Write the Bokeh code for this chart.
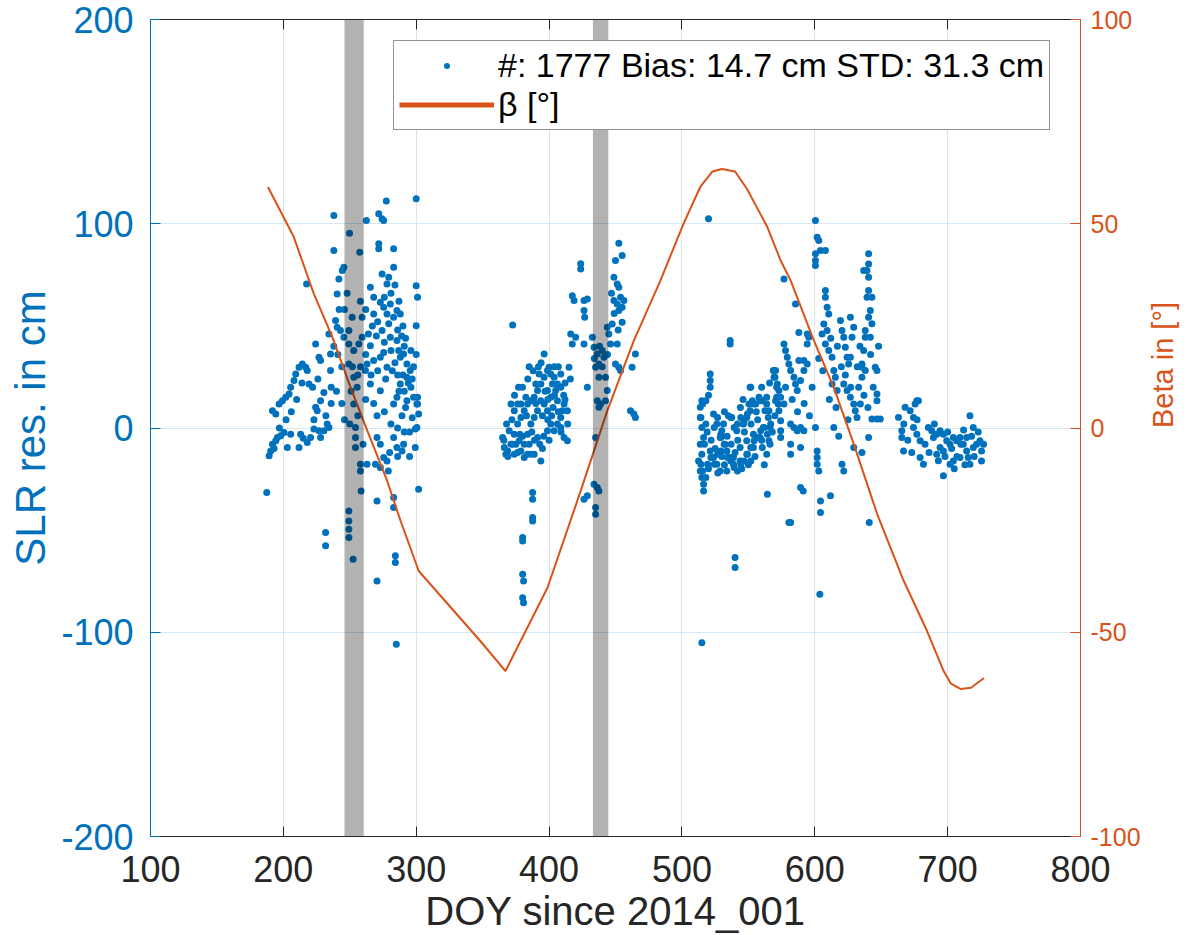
import math
from bokeh.plotting import figure
from bokeh.models import (Range1d, LinearAxis, Legend, LegendItem, Label,
                          BoxAnnotation, FixedTicker)
from bokeh.embed import file_html
from bokeh.resources import INLINE

# ---------------- data ----------------
title_text = "SLR residuals for GAL-101"
x_label = "DOY since 2014_001"
y_label = "SLR res. in cm"
y2_label = "Beta in [°]"
legend_labels = ["#: 1777 Bias: 14.7 cm STD: 31.3 cm", "β [°]"]

x_ticks = [100, 200, 300, 400, 500, 600, 700, 800]
y_ticks = [-200, -100, 0, 100, 200]
beta_ticks = [-100, -50, 0, 50, 100]

eclipse_start = [246.0, 433.0]
eclipse_end = [260.5, 444.6]

arc1_doy = [187.5, 189.3, 190.5, 191.8, 194.3, 195.5, 198, 200.5, 191.8, 194.3, 196.8, 199.3, 201.8, 204.3, 205.5, 208, 209.3, 211.8, 214.3, 216.8, 218, 219.3, 203, 205.5, 211.8, 213, 218, 220.5, 223, 226.8, 228, 230.5, 233, 234.3, 224.3, 225.5, 228, 230.5, 224.3, 226.8, 228, 235.5, 234.3, 235.5, 217.5, 231.8, 231.8, 238, 238, 240.5, 241.8, 245.5, 244.3, 239.3, 240.5, 243, 245.5, 249.8, 257.5, 251.8, 259.3, 249.3, 249.3, 253, 256.8, 259.3, 249.3, 253, 255.5, 253, 254.3, 254.3, 254.3, 258, 258, 258.5, 249.3, 249.3, 249.3, 249.3, 252.5, 262.5, 271.8, 274.3, 275.5, 277.5, 271.8, 271.8, 283, 283, 274.3, 279.3, 278, 265.5, 268, 273, 275.5, 278, 280.5, 283, 285.5, 288, 268, 274.3, 279.3, 280.5, 285.5, 286.8, 288, 290.5, 293, 295.5, 293, 288, 285.5, 283, 265.5, 263, 261.8, 268, 273, 275.5, 278, 265.5, 273, 270.5, 289.3, 293, 298, 300.5, 301.8, 300.5, 299.3, 270.5, 273, 275.5, 278, 269.3, 263, 273, 283, 285.5, 289.3, 290.5, 270.5, 283, 283, 284.3, 284.3, 270.5, 285, 300, 300, 301, 300, 301, 301, 299.3, 301.8,
            286, 289, 291, 284, 282, 290, 294, 287, 292, 296, 270, 276, 281, 266, 262, 258, 256, 252, 251, 256, 250, 244, 241, 238, 236, 232, 226, 222, 214, 210, 206, 202, 197, 193, 215, 223, 280, 286, 279, 295, 297, 260, 262,
            264, 267, 271, 276, 281, 284, 287, 290, 292, 296, 298, 300, 297, 291, 286, 277, 271, 268, 276, 281, 286, 291, 295, 262, 258, 246, 242, 248, 244, 240, 236, 246]
arc1_res = [-31.6, -13.6, -11.2, -7.9, -6.3, -4.6, -3.8, -2.2, 8.5, 6.8, 11.7, 13.4, 15, 16.6, 19.9, 23.2, 26.4, 29.7, 31.3, 29.7, 28.1, 21.5, -9.5, -3, -9.5, -3, -7.1, -4.6, -0.5, -1.4, -4.6, -1.4, 1.9, 0.3, 10.1, 8.5, 13.4, 17.4, 41.1, 34.6, 33, 36.2, 46, 28.1, 70.5, -51.2, -57.7, 104, 86.9, 65.6, 73, 78.7, 77.1, 52.6, 49.3, 47.7, 44.4, 95.4, 86.1, 54.2, 54.2, 47.7, 41.1, 37.9, 41.1, 44.4, 31.3, 24.8, 19.9, 11.7, 0.3, -4.6, -9.5, -17.7, -21, -30.8, -40.6, -45.5, -49.6, -53.6, -64.3, 101.6, 104.9, 102.4, 101.6, 111.1, 90.2, 87.7, 87.7, 78.7, 75.4, 73.8, 70.5, 68.9, 64, 61.6, 59.1, 55.8, 60.7, 54.2, 57.5, 55.8, 55.8, 47.7, 51, 44.4, 42.8, 37.9, 34.6, 36.2, 31.3, 28.1, 24.8, 21.5, 15, 11.7, 40.3, 31.3, 28.1, 33, 34.6, 37, 29.7, 21.5, 18.2, 6, 6, 13.4, 15, 11.7, 6.8, 0.3, -9.5, -4.6, -7.9, -14.4, -16.1, -17.7, -17.7, -19.3, -4.6, -9.5, -11.2, -7.9, -35.7, -34, -38.9, -62.6, -65.9, -74.9, -105.9, 112.2, 69.7, 64, 50.1, 15, 11.7, -0.5, -30,
            48, 45, 40, 32, 28, 26, 22, 18, 10, 20, 45, 42, 38, 26, 36, 30, 26, 30, 18, 6, 2, 30, 36, 40, 12, 6, 24, 20, 22, 14, 8, 4, 0, -10, -5, 4, -12, -14, -21, -2, 5, -8, 14,
            46, 50, 52, 64, 66, 70, 62, 50, 44, 38, 30, 36, 24, 18, 26, 24, 28, 12, 8, 2, 0, -2, -14, 58, 62, 58, 58, 66, 12, 18, 20, 4]

arc2_doy = [372.6, 387.6, 387.6, 387.6, 387.6, 380.1, 380.1, 380.1, 380.8, 380.1, 380.8, 365, 366.3, 367.5, 371.3, 373.8, 376.3, 378.8, 381.3, 383.8, 386.3, 388.8, 391.3, 393.8, 396.3, 398.8, 401.3, 403.8, 406.3, 408.8, 411.3, 413.8, 408.8, 406.3, 403.8, 401.3, 398.8, 396.3, 393.8, 391.3, 388.8, 386.3, 383.8, 381.3, 378.8, 376.3, 373.8, 371.3, 373.8, 378.8, 381.3, 383.8, 386.3, 388.8, 393.8, 396.3, 400, 408.8, 415, 408.8, 411.3, 413.8, 398.8, 401.3, 402.5, 406.3, 372.5, 370, 376.3, 382.5, 390, 392.5, 405, 410, 398.8, 391.3, 377.5, 368.8, 423.8, 423.8, 417.5, 418.8, 426.3, 428.8, 426.3, 426.8, 416.3, 417.5, 420, 426.3, 428.8, 432.5, 433.8, 436.3, 437.5, 435, 440, 441.3, 437.5, 442.5, 443.8, 436.3, 437.5, 438.8, 442.5, 443.8, 445, 446.3, 447.5, 435, 426.3, 428.8, 433.8, 436.3, 437.5, 435, 435, 452.5, 455, 450, 448.8, 451.3, 452.5, 448.8, 451.3, 453.8, 456.3, 455, 452.5, 455, 451.3, 450, 452.5, 453.8, 462.5, 465, 461.3, 463.8, 465,
            380, 384, 388, 392, 395, 399, 403, 407, 412, 374, 368, 366, 385, 389, 395, 378, 440, 438, 434, 444, 449, 447, 452, 400, 412,
            369, 372, 375, 377, 380, 383, 385, 387, 390, 393, 394, 397, 399, 402, 404, 407, 409, 411, 414, 416, 404, 396]
arc2_res = [50.4, -31.6, -34.9, -43.8, -45.5, -53.6, -55.3, -71.6, -74.9, -83.1, -85.5, -4.6, -9.5, -12.8, -7.9, -3, 1.9, 5.2, 8.5, 11.7, 13.4, 15, 18.3, 21.5, 24.8, 28.1, 26.4, 24.8, 21.5, 19.9, 11.7, 8.5, 5.2, 1.9, -1.4, 1.9, 8.5, 11.7, 13.4, 8.5, 5.2, 1.9, -3, -7.9, -11.2, -12, -12.8, 11.7, 8.5, 11.7, -14.4, -12.8, -12.8, -12.8, -16.1, 36.2, 29.7, 26.4, 29.7, 0.3, -4.6, -6.3, 18.3, 15, 21.5, 13.4, -7.9, -1.4, 11.7, 15, 21.5, 26.4, 18.3, 8.5, -1.4, -4.6, -6.3, -11.2, 80.4, 77.9, 64.8, 62.4, 62.4, 63.2, 57.5, 54.2, 46, 41.1, 44.4, 41.1, 19.9, 44.4, 39.5, 36.2, 31.3, 29.7, 37.9, 34.6, 24.8, 24.8, 18.3, 13.4, 10.1, 11.7, 13.4, 49.3, 46, 41.1, 50.9, -4.6, -34.9, -33.2, -27.5, -29.1, -30.8, -38.9, -42.2, 90.5, 84.4, 82, 73.8, 70.5, 68.9, 62.4, 60.7, 64, 62.4, 59.1, 57.5, 51.8, 41.1, 31.3, 29.7, 28.1, 29.7, 36.2, 8.5, 6.8, 5.2,
            20, 24, 28, 30, 6, 4, 10, 30, 22, 16, 2, -6, -8, -6, -10, -3, 30, 40, 34, 36, 56, 66, 48, -6, 14,
            -14, 4, -8, 20, -4, 6, 30, -2, 12, -8, 32, 18, 14, 6, 30, 8, -2, 16, 2, 24, 16, -4]

arc3_doy = [520, 515, 536.3, 536.3, 521.3, 521.3, 521.3, 515, 513.8, 513.8, 515, 516.3, 513.8, 515, 512.5, 513.8, 515, 516.3, 516.3, 523.8, 526.3, 528.8, 532.5, 533.8, 536.3, 538.8, 543.8, 548.8, 553.8, 558.8, 561.3, 562.5, 563.8, 563.8, 558.8, 553.8, 551.3, 548.8, 546.3, 541.3, 537.5, 535, 531.3, 530, 521.3, 523.8, 526.3, 528.8, 533.8, 538.8, 543.8, 548.8, 553.8, 565, 566.3, 566.3, 563.8, 568.8, 570, 571.3, 571.3, 572.5, 551.3, 540, 540, 564.3, 514.3, 515.5, 518, 519.3, 521.8, 524.3, 526.8, 529.3, 531.8, 534.3, 536.8, 539.3, 541.8, 544.3, 546.8, 549.3, 551.8, 554.3, 556.8, 559.3, 561.8, 564.3, 565.5, 560.5, 551.8, 550.5, 553, 555.5, 558, 560.5, 565.5, 566.8, 549.3, 546.8, 544.3, 541.8, 539.3, 536.8, 529.3, 524.3, 514.3, 515.5, 518, 526.8, 529.3, 551.8, 580.5, 581.8, 576.8, 585.5, 570.5, 569.3, 571.8, 573, 574.3, 576.8, 570.5, 573, 574.3, 576.8, 578, 579.3, 580.5, 581.8, 584.3, 585.5, 586.8, 589.3, 591.8, 594.3, 588, 591.8, 574.3, 574.3, 581.8, 584.3, 586.8, 589.3, 591.8, 581.8, 581.8, 589.3, 589.3, 591.3, 588, 594.3, 595.5, 594.3,
            600.5, 601.8, 603, 604.3, 608, 600.5, 600.5, 600.5, 600.5, 601.8, 601.8, 601.8, 603, 604.3, 604.3, 611.8, 603.8, 608, 608, 609.3, 610.5, 606.8, 605.5, 609.3, 608, 610.5, 613, 614.3, 615.5, 613, 616.8, 619.3, 620.5, 621.8, 623, 624.3, 625.5, 626.8, 629.3, 628, 626.8, 621.8, 624.3, 626.8, 629.3, 630.5, 631.8, 634.3, 633, 635.5, 635.5, 636.8, 638, 638, 620.5, 621.8, 614.3, 629.3, 635.5, 640.5, 640.5, 639.3, 640.5, 636.8, 640.5, 639.3, 643, 641.8, 640.5, 643, 641.8, 635.5, 638, 645.5, 646.8, 646.8, 646.8, 643, 646.8, 649.3, 640.5, 641,
            517, 519, 520, 522, 525, 527, 530, 532, 534, 537, 540, 542, 545, 547, 550, 552, 555, 557, 560, 562, 568, 570, 556, 544, 532, 518, 520, 546, 560, 566,
            578, 583, 587, 592, 596, 598, 603, 606, 611, 617, 620, 623, 627, 632, 634, 637, 642, 644, 648, 612, 616, 625, 618, 640]
arc3_res = [102.4, -105.1, 42.8, 41.1, 26.4, 23.2, 19.9, 13.4, 10.1, 5.2, 0.3, -4.6, -7.9, -12.8, -16.1, -21, -24.2, -27.5, -30.8, 6.8, 1.9, -4.6, -7.9, -11.2, -14.4, -17.7, -16.1, -12.8, -9.5, -4.6, 0.3, 8.5, 11.7, 15, 13.4, 11.7, 8.5, 5.2, 1.9, -1.4, 5.2, 6, 1.9, -1.4, -11.2, -14.4, -17.7, -21, -21, -14.4, -9.5, -6.3, -3, 5.2, 0.3, -7.9, -12.8, 28.1, 24.8, 19.9, 15, 11.7, 19.9, -63.4, -68.3, -32.4, -17.7, -21, -24.2, -17.7, -14.4, -17.7, -12.8, -11.2, -7.9, -14.4, -16.1, -19.3, -21, -17.7, -16.1, -12.8, -9.5, -6.3, -4.6, -1.4, 0.3, -3, -6.3, -9.5, -16.1, 11.7, 13.4, 11.7, 15, 13.4, 8.5, 1.9, 6.8, 3.5, 5.2, 1.9, 0.3, 5.2, -4.6, 0.3, 5.2, 11.7, 13.4, 5.2, -3, 19.9, -46.3, -46.3, 73, 60.7, 28.1, 24.8, 21.5, 18.3, 15, 11.7, 13.4, 8.5, 3.5, 41.1, 37.9, 34.6, 31.3, 28.1, 24.8, 21.5, 18.3, 23.2, 28.1, 31.3, 33, 33, -1.4, -4.6, 1.9, 0.3, -1.4, 0.3, -1.4, -7.9, -12.8, -9.5, -29.1, -30.8, 46.8, 46, 44.4, 41.1,
            101.6, 93.4, 91.8, 86.9, 86.9, 85.3, 82, 79.5, 0.3, -11.2, -14.4, -17.7, -21, -35.7, -41.4, -33.2, -81.4, 67.3, 64, 59.1, 55.8, 50.9, 46, 47.7, 41.1, 37.9, 34.6, 28.1, 24.8, 21.5, 18.3, 52.6, 47.7, 44.4, 39.5, 34.6, 31.3, 54.2, 49.3, 44.4, 34.6, 21.5, 18.3, 15, 11.7, 8.5, 5.2, 11.7, 19.9, 24.8, 31.3, 37.9, 44.4, 47.7, -17.7, -21, 0.3, -9.5, -12, 85.3, 80.3, 77.1, 73.8, 77.1, 67.3, 64, 64, 57.5, 54.2, 51, 44.4, 29.7, 28.1, 29.7, 28.1, 16.6, 13.4, 4.4, 4.4, 4.4, -4.6, -46.3,
            -8, -2, -20, -6, -10, -22, -14, -18, -4, -8, -12, -6, -20, -2, -18, 2, -14, 4, -6, -18, -2, 6, 8, 10, 8, 2, 16, 14, 20, 22,
            20, 14, 8, 12, 6, 20, 34, 28, 14, 40, 30, 26, 20, 30, 40, 16, 36, 20, 40, 44, 10, 4, -4, 10]

arc4_doy = [663, 665.5, 665.5, 666.8, 668, 671.8, 674.3, 675.5, 676.8, 678, 674.3, 676.8, 679.3, 679.3, 681.8, 685.5, 688, 689.3, 691.8, 694.3, 696.8, 699.3, 701.8, 696.8, 694.3, 691.8, 704.3, 706.8, 709.3, 711.8, 714.3, 715.5, 716.8, 719.3, 721.8, 724.3, 725.5, 725.5, 716.8, 719.3, 714.3, 704.3, 701.8, 709.3, 696.8,
            667, 670, 673, 677, 683, 686, 690, 693, 698, 700, 703, 707, 710, 713, 718, 720, 723, 727, 712, 705]
arc4_res = [5.2, -1.4, -4.6, -11.2, 10.1, 8.5, 5.2, 11.7, 13.4, 13.4, 0.3, -3, -6.3, -14.4, -17.7, 0.3, -1.4, -4.6, -3, -1.4, -3, -6.3, -7.9, -11.2, -9.5, -12.8, -4.6, -6.3, -4.6, -7.9, -11.2, -14.4, -17.7, -9.5, -7.9, -6.3, -11.2, -16.1, 6, 0.3, -4.6, -16.1, -17.7, -14.4, -23.4,
            2, -6, -12, 4, -8, -12, 2, -16, -14, -2, -10, -14, -8, -18, -4, -14, -2, -8, -1, -20]

beta_doy = [188.4, 207.8, 222.9, 236.8, 250.5, 263.1, 278.1, 288.2, 301.9, 348.4, 367.2, 398.8, 423.8, 443.8, 463.8, 483.8, 501.3, 513.8, 523, 530, 540, 549, 564.3, 574.3, 581.7, 599.2, 614.2, 629.3, 646.9, 666.9, 684.5, 697, 702.5, 710, 717.6, 727.4]
beta_deg = [59, 46.8, 32.9, 22.3, 10, -0.6, -12.9, -22.7, -35, -52.2, -59.5, -39.1, -15.4, 4.2, 21.4, 36.1, 50.1, 59, 62.8, 63.4, 62.8, 58.5, 49.2, 41, 36.2, 21.5, 10, -3.9, -21, -37.4, -49.7, -59.5, -62.6, -63.9, -63.6, -61.2]

slr_doy = arc1_doy + arc2_doy + arc3_doy + arc4_doy
slr_res = arc1_res + arc2_res + arc3_res + arc4_res

# ---------------- styling ----------------
FONT = "Liberation Sans"
BLUE = "#0072BD"
ORANGE = "#D95319"
DARK = "#262626"

p = figure(width=1199, height=935, x_range=Range1d(100, 800), y_range=Range1d(-200, 200),
           output_backend="svg", toolbar_location=None,
           min_border_left=150, min_border_right=119, min_border_top=19, min_border_bottom=99)
p.extra_y_ranges = {"beta": Range1d(-100, 100)}
p.outline_line_color = None
p.background_fill_color = "white"
p.border_fill_color = "white"

# grids
p.xgrid.ticker = FixedTicker(ticks=x_ticks)
p.ygrid.ticker = FixedTicker(ticks=y_ticks)
p.xgrid.grid_line_color = "#e2e2e2"
p.ygrid.grid_line_color = "#d5e6f4"

def plain(ticks):
    return {t: str(t) for t in ticks}

# bottom axis
xa = p.xaxis[0]
xa.ticker = FixedTicker(ticks=x_ticks)
xa.major_label_overrides = plain(x_ticks)
xa.axis_label = x_label
xa.axis_label_text_font = FONT
xa.axis_label_text_font_style = "normal"
xa.axis_label_text_font_size = "40px"
xa.axis_label_text_color = DARK
xa.axis_label_standoff = 4
xa.major_label_text_font = FONT
xa.major_label_text_font_size = "36px"
xa.major_label_text_color = DARK
xa.major_label_standoff = 19
xa.axis_line_color = DARK
xa.major_tick_line_color = DARK
xa.major_tick_in = 10
xa.major_tick_out = 0
xa.minor_tick_line_color = None

# top axis (box with ticks, no labels)
ta = LinearAxis(ticker=FixedTicker(ticks=x_ticks), major_label_text_font_size="0px",
                axis_line_color=DARK, major_tick_line_color=DARK, major_tick_in=10,
                major_tick_out=0, minor_tick_line_color=None, major_label_standoff=0)
p.add_layout(ta, "above")

# left axis
ya = p.yaxis[0]
ya.ticker = FixedTicker(ticks=y_ticks)
ya.major_label_overrides = plain(y_ticks)
ya.axis_label = y_label
ya.axis_label_text_font = FONT
ya.axis_label_text_font_style = "normal"
ya.axis_label_text_font_size = "42px"
ya.axis_label_text_color = BLUE
ya.axis_label_standoff = 4
ya.major_label_text_font = FONT
ya.major_label_text_font_size = "36px"
ya.major_label_text_color = BLUE
ya.major_label_standoff = 17
ya.axis_line_color = BLUE
ya.major_tick_line_color = BLUE
ya.major_tick_in = 10
ya.major_tick_out = 0
ya.minor_tick_line_color = None

# right axis
ra = LinearAxis(y_range_name="beta", ticker=FixedTicker(ticks=beta_ticks))
ra.major_label_overrides = plain(beta_ticks)
ra.major_label_text_font = FONT
ra.major_label_text_font_size = "25px"
ra.major_label_text_color = ORANGE
ra.major_label_standoff = 10
ra.axis_line_color = ORANGE
ra.major_tick_line_color = ORANGE
ra.major_tick_in = 10
ra.major_tick_out = 0
ra.minor_tick_line_color = None
ra.axis_label = y2_label
ra.axis_label_text_font = FONT
ra.axis_label_text_font_style = "normal"
ra.axis_label_text_font_size = "29px"
ra.axis_label_text_color = ORANGE
ra.axis_label_standoff = 19
if "axis_label_orientation" in ra.properties():
    ra.axis_label_orientation = math.pi / 2
p.add_layout(ra, "right")

# data
sc = p.scatter(slr_doy, slr_res, size=7, marker="circle", fill_color=BLUE, line_color=None)

for s, e in zip(eclipse_start, eclipse_end):
    p.add_layout(BoxAnnotation(left=s, right=e, fill_color="black", fill_alpha=0.3,
                               line_color=None, level="glyph"))

ln = p.line(beta_doy, beta_deg, y_range_name="beta", line_color=ORANGE, line_width=2)

# legend-only line proxy (a single NaN point: never visible in the plot) with a thicker stroke
leg_ln = p.line([math.nan], [math.nan], line_color=ORANGE, line_width=5)

legend = Legend(items=[LegendItem(label=legend_labels[0], renderers=[sc]),
                       LegendItem(label=legend_labels[1], renderers=[leg_ln])],
                location=(243, 706))
legend.label_text_font = FONT
legend.label_text_font_size = "34px"
legend.label_text_color = "#000000"
legend.border_line_color = DARK
legend.border_line_width = 1
legend.background_fill_alpha = 1
legend.glyph_width = 95
legend.glyph_height = 15
legend.label_height = 30
legend.label_standoff = 4
legend.padding = 5
legend.spacing = 0
legend.margin = 0
p.add_layout(legend)

# title, mostly above the visible page (as in the reference)
p.add_layout(Label(x=450, y=207.8, text=title_text, text_align="center",
                   text_baseline="alphabetic", text_font=FONT, text_font_style="bold",
                   text_font_size="40px", text_color=DARK))

open("out.html", "w").write(file_html(p, INLINE))
